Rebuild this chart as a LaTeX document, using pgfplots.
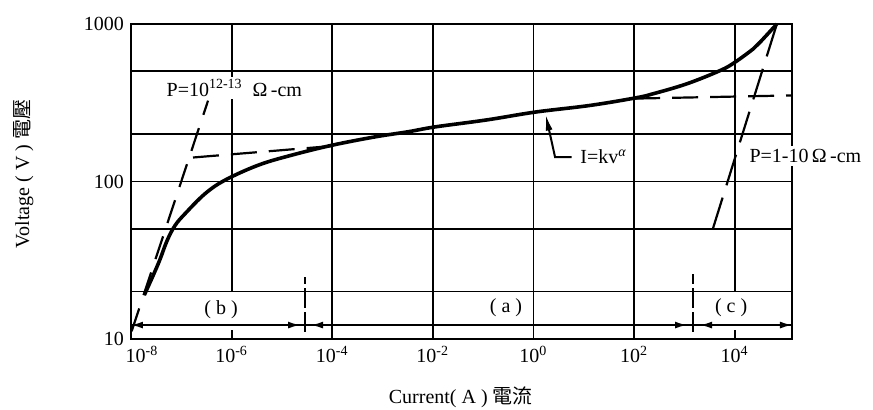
\documentclass[border=0pt]{standalone}
\usepackage{fontspec}
\setmainfont{Liberation Serif}
\newfontfamily\cjk{Noto Sans CJK TC}
\usepackage{pgfplots}
\pgfplotsset{compat=1.18}
\usetikzlibrary{arrows.meta}

\begin{document}
\begin{tikzpicture}
\useasboundingbox (-65.5pt,-35.5pt) rectangle (371pt,169.5pt);
\begin{axis}[
  at={(0,0)}, anchor=south west,
  scale only axis, width=330.5pt, height=157.5pt,
  xmode=log, ymode=log,
  xmin=1e-8, xmax=1.38e5, ymin=10, ymax=1000,
  xtick={1e-8,1e-6,1e-4,1e-2,1,1e2,1e4},
  xticklabels={\hspace{11pt}10\textsuperscript{-8},10\textsuperscript{-6},10\textsuperscript{-4},10\textsuperscript{-2},10\textsuperscript{0},10\textsuperscript{2},10\textsuperscript{4}},
  ytick={10,20,50,100,200,500,1000},
  yticklabels={10,,,100,,,1000},
  xminorticks=false, yminorticks=false,
  ymajorgrids,
  grid style={black, line width=0.9pt},
  axis line style={line width=0.9pt},
  tick align=inside, xtick pos=bottom, ytick pos=left,
  major tick length=4.5pt,
  tick style={black, line width=0.9pt},
  tick label style={font=\fontsize{10}{12}\selectfont},
  clip=false,
  xlabel={Current( A ) {\cjk 電流}},
  ylabel={Voltage ( V ) {\cjk 電壓}},
  label style={font=\fontsize{10}{12}\selectfont},
  xlabel style={at={(axis description cs:0.499,-0.184)}, anchor=center},
  ylabel style={at={(axis description cs:-0.163,0.524)}, anchor=center},
]
% vertical grid lines
\draw[line width=0.9pt] (axis cs:1e-4,10) -- (axis cs:1e-4,1000);
\draw[line width=0.9pt] (axis cs:1e-2,10) -- (axis cs:1e-2,1000);
\draw[line width=0.9pt] (axis cs:1,10) -- (axis cs:1,1000);
\draw[line width=0.9pt] (axis cs:1e2,10) -- (axis cs:1e2,1000);
\draw[line width=0.9pt] (axis cs:1e-6,20) -- (axis cs:1e-6,1000);
\draw[line width=0.9pt] (axis cs:1e4,20) -- (axis cs:1e4,1000);

% main curve
\addplot[black, line width=1.8pt, smooth, tension=0.6] coordinates {
(1.84e-8,19.0) (3.49e-8,30.1) (5.2e-8,42) (7.5e-8,52.5) (1.19e-7,62.5) (2.96e-7,83.6)
(7.4e-7,102) (3.4e-6,127) (1.57e-5,147) (1e-4,170) (7.1e-4,192)
(3.26e-3,207) (1.1e-2,222) (0.118,246) (1.1,276) (13.3,304)
(110,340) (243,361) (1120,417) (5130,506) (1e4,570) (2.34e4,695)
(3.2e4,766) (6.9e4,1000)
};

% ohmic line, high resistivity
\addplot[black, line width=1.1pt, dash pattern=on 12pt off 7pt] coordinates {
(1.03e-8,11.2) (3.4e-7,326)
};
% trap-filled step
\addplot[black, line width=1.1pt, dash pattern=on 13pt off 6pt] coordinates {
(1.71e-7,142) (1e-4,168)
};
% ohmic line, low resistivity
\addplot[black, line width=1.1pt, dash pattern=on 16pt off 6.5pt] coordinates {
(3.72e3,50.5) (6.9e4,1000)
};
% right flat dashed
\addplot[black, line width=1.1pt, dash pattern=on 13pt off 6pt] coordinates {
(100,336) (1.38e5,352)
};

% bottom region arrows
\draw[line width=0.9pt] (axis cs:1e-8,12.26) -- (axis cs:1.38e5,12.26);
\draw[line width=0.9pt, {Latex[length=6pt,width=3.5pt]}-{Latex[length=6pt,width=3.5pt]}] (axis cs:1e-8,12.26) -- (axis cs:2.3e-5,12.26);
\draw[line width=0.9pt, {Latex[length=6pt,width=3.5pt]}-{Latex[length=6pt,width=3.5pt]}] (axis cs:3.8e-5,12.26) -- (axis cs:1130,12.26);
\draw[line width=0.9pt, {Latex[length=6pt,width=3.5pt]}-{Latex[length=6pt,width=3.5pt]}] (axis cs:2050,12.26) -- (axis cs:1.38e5,12.26);
\draw[line width=0.9pt, dash pattern=on 10pt off 2pt] (axis cs:2.88e-5,11.1) -- (axis cs:2.88e-5,24.8);
\draw[line width=0.9pt, dash pattern=on 10pt off 2pt] (axis cs:1490,11.1) -- (axis cs:1490,26);

\node[font=\fontsize{10}{12}\selectfont] at (axis cs:6.2e-7,15.3) {( b )};
\node[font=\fontsize{10}{12}\selectfont] at (axis cs:0.285,15.7) {( a )};
\node[font=\fontsize{10}{12}\selectfont] at (axis cs:8500,15.7) {( c )};

% I = kV^alpha annotation
\draw[line width=1pt, -{Latex[length=8pt,width=3.5pt]}] (axis cs:5.77,143) -- (axis cs:2.69,143) -- (axis cs:1.75,266);
\node[anchor=west, font=\fontsize{10}{12}\selectfont, inner sep=1pt] at (axis cs:7.7,143) {I=kv\textsuperscript{\textit{α}}};

\node[anchor=west, font=\fontsize{10}{12}\selectfont, fill=white, inner sep=1.5pt] at (axis cs:4.38e-8,393) {P=10\textsuperscript{12-13}\ \ Ω\,-cm};
\node[anchor=west, font=\fontsize{10}{12}\selectfont, fill=white, inner sep=1.5pt] at (axis cs:1.69e4,145) {P=1-10\,Ω\,-cm};
\end{axis}
\end{tikzpicture}
\end{document}
